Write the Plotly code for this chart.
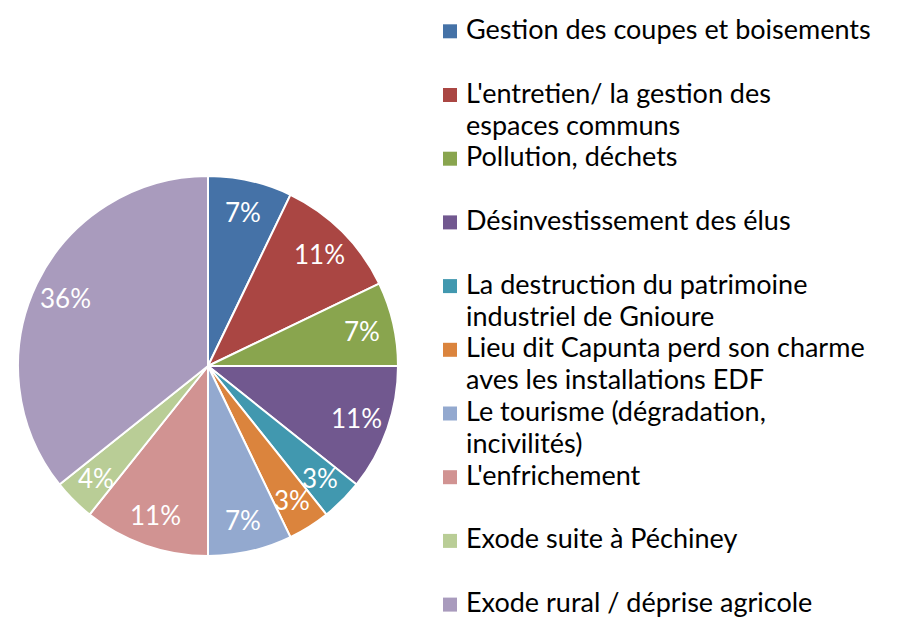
import math
import plotly.graph_objects as go

categories = [
    "Gestion des coupes et boisements",
    "L'entretien/ la gestion des<br>espaces communs",
    "Pollution, déchets",
    "Désinvestissement des élus",
    "La destruction du patrimoine<br>industriel de Gnioure",
    "Lieu dit Capunta perd son charme<br>aves les installations EDF",
    "Le tourisme (dégradation,<br>incivilités)",
    "L'enfrichement",
    "Exode suite à Péchiney",
    "Exode rural / déprise agricole",
]
values = [2, 3, 2, 3, 1, 1, 2, 3, 1, 10]
pct_labels = ["7%", "11%", "7%", "11%", "3%", "3%", "7%", "11%", "4%", "36%"]
colors = ["#4572A7", "#AA4643", "#89A54E", "#71588F", "#4198AF",
          "#DB843D", "#93A9CF", "#D19392", "#B9CD96", "#A99BBD"]

# the page body has an 8px margin, so the figure is drawn from (8, 8)
OFF = 8
W, H = 898 - OFF, 617 - OFF
FONT = "Lato"

# pie geometry (in screen pixels of the reference)
CX, CY, R = 208 - OFF, 366 - OFF, 190

fig = go.Figure(go.Pie(
    labels=[c.replace("<br>", " ") for c in categories],
    values=values,
    textinfo="none",
    marker=dict(colors=colors, line=dict(color="white", width=2)),
    sort=False,
    direction="clockwise",
    rotation=0,
    showlegend=False,
    hoverinfo="label+percent",
    domain=dict(x=[(CX - R) / W, (CX + R) / W],
                y=[(H - (CY + R)) / H, (H - (CY - R)) / H]),
))

annots, shapes = [], []

# percentage labels, placed inside each slice near the rim
total = sum(values)
cum = 0
LR = 0.83 * R
for v, t in zip(values, pct_labels):
    mid = (cum + v / 2) / total * 2 * math.pi
    cum += v
    px = CX + LR * math.sin(mid)
    py = CY - LR * math.cos(mid)
    annots.append(dict(text=t, xref="paper", yref="paper",
                       x=px / W, y=1 - py / H,
                       xanchor="center", yanchor="middle", showarrow=False,
                       font=dict(family=FONT, size=26, color="white")))

# manual legend (evenly spaced entries, text wraps downward)
first, step, line_h, text_shift = 31.3 - OFF, 63.7, 32, -3
for i, (lab, col) in enumerate(zip(categories, colors)):
    yc = first + step * i
    shapes.append(dict(type="rect", xref="paper", yref="paper",
                       x0=(443 - OFF) / W, x1=(457 - OFF) / W,
                       y0=1 - (yc + 7) / H, y1=1 - (yc - 7) / H,
                       fillcolor=col, line=dict(width=0)))
    for k, part in enumerate(lab.split("<br>")):
        ty = yc + k * line_h + text_shift
        annots.append(dict(text=part, xref="paper", yref="paper",
                           x=(464 - OFF) / W, y=1 - ty / H,
                           xanchor="left", yanchor="middle", align="left",
                           showarrow=False,
                           font=dict(family=FONT, size=27, color="black")))

fig.update_layout(
    width=W, height=H,
    margin=dict(l=0, r=0, t=0, b=0),
    paper_bgcolor="white", plot_bgcolor="white",
    shapes=shapes, annotations=annots,
)
fig.write_html("out.html")
